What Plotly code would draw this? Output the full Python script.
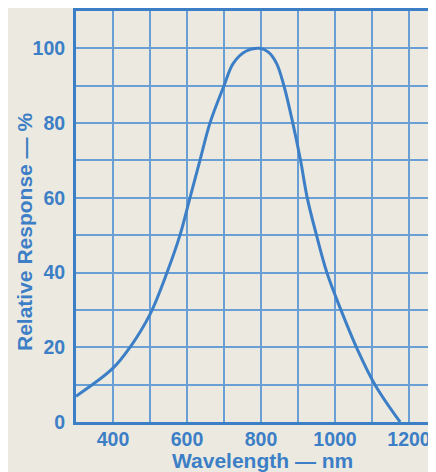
import plotly.graph_objects as go

wavelength_nm = [300, 400, 446, 500, 546, 581, 608, 635, 662, 700, 725, 760,
                 795, 820, 842, 862, 886, 907, 925, 950, 978, 1016, 1058, 1108, 1176]
relative_response = [6.9, 14.4, 20, 28.8, 40, 50, 60, 70, 80, 90, 96, 99.3,
                     100, 99, 96, 90, 80, 70, 60, 50, 40, 30, 20, 10, 0]

x_tickvals = [300, 400, 500, 600, 700, 800, 900, 1000, 1100, 1200]
x_ticktext = ["", "400", "", "600", "", "800", "", "1000", "", "1200"]
y_tickvals = [0, 10, 20, 30, 40, 50, 60, 70, 80, 90, 100, 110]
y_ticktext = ["0", "", "20", "", "40", "", "60", "", "80", "", "100", ""]

BLUE = "#3c7fc6"
GRID = "#6a9fd6"
BG = "#ece9e0"
FONT = "Liberation Sans"

# page body has an 8px default margin: figure occupies 428x464 starting at (8, 8)
W, H = 428, 464
L, T, B, R = 68, 3, 50, 0
PW, PH = W - L - R, H - T - B

fig = go.Figure()
fig.add_trace(go.Scatter(
    x=wavelength_nm, y=relative_response, mode="lines",
    line=dict(color=BLUE, width=3, shape="spline", smoothing=1.0),
    hoverinfo="skip", showlegend=False,
))

fig.update_layout(
    width=W, height=H,
    margin=dict(l=L, r=R, t=T, b=B, pad=0),
    paper_bgcolor=BG, plot_bgcolor=BG,
    xaxis=dict(range=[300, 1273], tickvals=x_tickvals, ticktext=x_ticktext,
               showgrid=True, gridcolor=GRID, gridwidth=1.6,
               showline=True, linecolor=BLUE, linewidth=3, mirror=True,
               zeroline=False, ticks="", ticklabelstandoff=-2,
               tickfont=dict(family=FONT, size=19.5, color=BLUE, weight="bold")),
    yaxis=dict(range=[0, 110], tickvals=y_tickvals, ticktext=y_ticktext,
               showgrid=True, gridcolor=GRID, gridwidth=1.6,
               showline=True, linecolor=BLUE, linewidth=3,
               zeroline=False, ticks="", ticklabelstandoff=4,
               tickfont=dict(family=FONT, size=19.5, color=BLUE, weight="bold")),
    annotations=[
        dict(text="Wavelength — nm", xref="paper", yref="paper",
             x=(262 - 76) / PW, y=-(460 - 422) / PH, xanchor="center", yanchor="middle",
             showarrow=False, font=dict(family=FONT, size=21, color=BLUE, weight="bold")),
        dict(text="Relative Response — %", xref="paper", yref="paper",
             x=-(76 - 24) / PW, y=(422 - 232) / PH, xanchor="center", yanchor="middle",
             textangle=-90, showarrow=False,
             font=dict(family=FONT, size=21, color=BLUE, weight="bold")),
    ],
)

fig.write_html("out.html")
